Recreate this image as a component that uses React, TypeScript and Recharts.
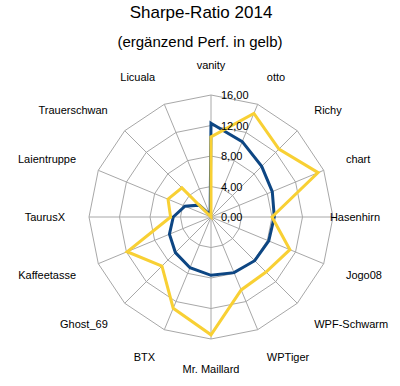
import React from 'react';
import { RadarChart, Radar, PolarGrid, PolarAngleAxis, PolarRadiusAxis } from 'recharts';

const categories = [
  'vanity', 'otto', 'Richy', 'chart', 'Hasenhirn', 'Jogo08', 'WPF-Schwarm', 'WPTiger',
  'Mr. Maillard', 'BTX', 'Ghost_69', 'Kaffeetasse', 'TaurusX', 'Laientruppe', 'Trauerschwan', 'Licuala',
];
const sharpe = [12.3, 10.7, 9.4, 8.7, 8.3, 8.2, 8.1, 7.9, 7.65, 7.2, 6.6, 5.9, 4.95, 3.7, 2.2, 0.3];
const perf = [10.5, 14.7, 12.6, 15.2, 8.0, 11.2, 10.2, 10.35, 15.45, 12.95, 9.1, 11.9, 5.3, 6.1, 5.4, 0];
const radiusTicks = [0, 4, 8, 12, 16];

const data = categories.map((name, i) => ({ name, sharpe: sharpe[i], perf: perf[i] }));

const CX = 211;
const CY = 217;
const OUTER = 122;
const FONT = '"Liberation Sans", Arial, sans-serif';
const BLUE = '#0D4683';
const YELLOW = '#F8D034';
const GRID = '#A8A8A8';

function AngleTick(props: any) {
  const { payload } = props;
  const cx = typeof props.cx === 'number' ? props.cx : CX;
  const cy = typeof props.cy === 'number' ? props.cy : CY;
  const a = ((90 - payload.coordinate) * Math.PI) / 180;
  const s = Math.sin(a);
  const c = Math.cos(a);
  let x = cx + 146 * s;
  const y = cy - 152 * c;
  let anchor = Math.abs(s) < 0.2 ? 'middle' : s > 0 ? 'start' : 'end';
  if (s > 0.99) {
    anchor = 'middle';
    x = cx + 144;
  }
  return (
    <text x={x} y={y} textAnchor={anchor} dominantBaseline="central" fontSize={11} fontFamily={FONT} fill="#000">
      {payload.value}
    </text>
  );
}

function RadiusTick(props: any) {
  const { x, y, payload } = props;
  return (
    <text x={x + 10} y={y} textAnchor="start" dominantBaseline="central" fontSize={11} fontFamily={FONT} fill="#000">
      {Number(payload.value).toFixed(2).replace('.', ',')}
    </text>
  );
}

export default function App() {
  return (
    <div style={{ position: 'absolute', left: 0, top: 0, width: 400, height: 386, background: '#fff' }}>
      <div
        style={{
          position: 'absolute', left: 1, top: 3, width: 400, textAlign: 'center',
          fontFamily: FONT, fontSize: 17, lineHeight: '20px', color: '#000',
        }}
      >
        Sharpe-Ratio 2014
      </div>
      <div
        style={{
          position: 'absolute', left: 0, top: 33, width: 400, textAlign: 'center',
          fontFamily: FONT, fontSize: 15, lineHeight: '18px', color: '#000',
        }}
      >
        (ergänzend Perf. in gelb)
      </div>
      <div style={{ position: 'absolute', left: 0, top: 0 }}>
        <RadarChart width={400} height={386} data={data} cx={CX} cy={CY} outerRadius={OUTER}>
          <PolarGrid gridType="polygon" stroke={GRID} strokeWidth={1} />
          <PolarAngleAxis dataKey="name" tick={<AngleTick />} tickLine={false} axisLine={false} />
          <PolarRadiusAxis
            angle={90}
            domain={[0, 16]}
            ticks={radiusTicks}
            tick={<RadiusTick />}
            tickLine={false}
            axisLine={false}
          />
          <Radar dataKey="sharpe" stroke={BLUE} strokeWidth={3} fill="none" fillOpacity={0} dot={false} isAnimationActive={false} />
          <Radar dataKey="perf" stroke={YELLOW} strokeWidth={3} fill="none" fillOpacity={0} dot={false} isAnimationActive={false} />
        </RadarChart>
      </div>
    </div>
  );
}
